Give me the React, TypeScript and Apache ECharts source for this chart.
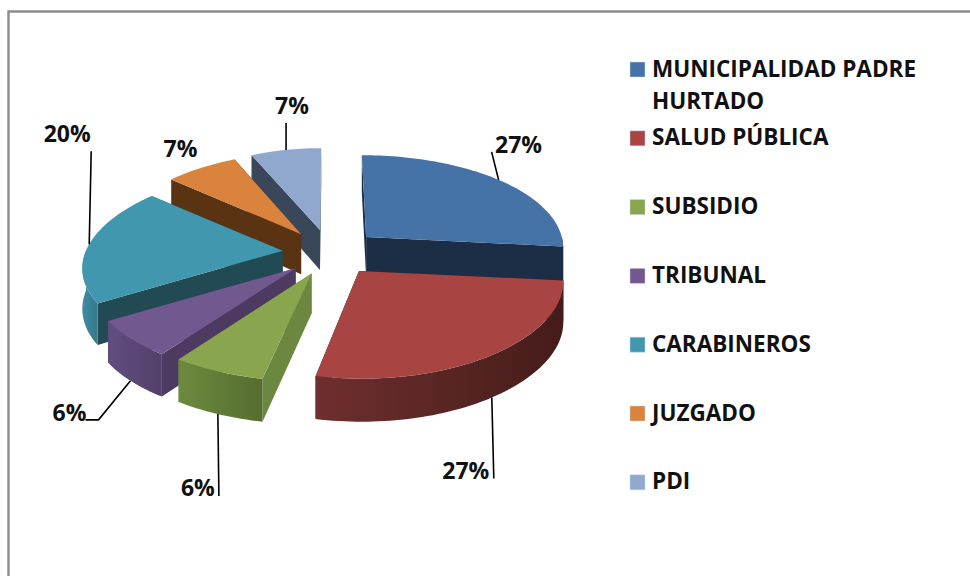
import React, { useEffect, useRef } from "react";
import * as echarts from "echarts";

const categories = [
  "MUNICIPALIDAD PADRE\nHURTADO",
  "SALUD PÚBLICA",
  "SUBSIDIO",
  "TRIBUNAL",
  "CARABINEROS",
  "JUZGADO",
  "PDI",
];
const shares = [26.6, 26.6, 6.49, 6.49, 19.9, 6.9, 7.02];

const topColors = ["#4573a7", "#a84543", "#89a54e", "#71588f", "#4097ae", "#d9833c", "#91a8ce"];
const edgeColors = ["#1c2e45", "#451c1a", "#6c8840", "#4d3a60", "#214a55", "#5a3312", "#3a465a"];
const rimFrom = ["#1c2e45", "#6e2f2e", "#6c8a3e", "#624d80", "#3d8ca2", "#5a3312", "#3a465a"];
const rimTo = ["#1c2e45", "#451c1a", "#566d30", "#52406a", "#35798c", "#5a3312", "#3a465a"];

// leader polyline offsets and label offset, relative to the slice's rim midpoint
const leaderOffsets: number[][][] = [
  [[-7, -28]],
  [[2, 81]],
  [[1, 82]],
  [[-32, 39], [-45, 39]],
  [[2, -93]],
  [],
  [[0, -27]],
];
const labelOffsets = [[20, -36], [-26, 72], [-20, 73], [-61, 31], [-22, -111], [-21, -20], [6, -45]];

const CX = 330.5;
const CY = 252.4;
const RX_RIGHT = 199;
const RX_LEFT = 197;
const SLOPE_RIGHT = 20;
const SLOPE_LEFT = 33;
const RY = 93;
const EXPLODE_X = 48;
const EXPLODE_Y = 23;
const PERSPECTIVE_Y = 0.137;
const NEAR_GAIN = 0.025;
const CONVERGE = 0.12;
const FONT = '"Open Sans", "Noto Sans", sans-serif';

const total = shares.reduce((a, b) => a + b, 0);
const startAngles: number[] = [];
shares.reduce((acc, v, i) => {
  startAngles[i] = acc;
  return acc + (v / total) * Math.PI * 2;
}, 0);
const sweep = (i: number) => (shares[i] / total) * Math.PI * 2;
const midZ = (i: number) => -Math.cos(startAngles[i] + sweep(i) / 2);
const order = shares.map((_, i) => i).sort((a, b) => midZ(a) - midZ(b));

const apexOf = (i: number) => {
  const m = startAngles[i] + sweep(i) / 2;
  return [CX + EXPLODE_X * Math.sin(m), CY - EXPLODE_Y * Math.cos(m)];
};
const rimPoint = (i: number, t: number) => {
  const apex = apexOf(i);
  const X = Math.sin(t);
  const Z = -Math.cos(t);
  const a = X > 0 ? RX_RIGHT + SLOPE_RIGHT * Z : RX_LEFT + SLOPE_LEFT * Z;
  const gain = 1 + NEAR_GAIN * midZ(i);
  const sy = 1 / (1 - PERSPECTIVE_Y * Z);
  return [apex[0] + a * X * gain + (apex[0] - CX) * CONVERGE * Z, apex[1] + RY * Z * sy];
};
const depthAt = (t: number) => 40 - 3 * Math.cos(t);

function renderSlice(params: any) {
  const i = params.dataIndex;
  const value = shares[i];
  const rank = order.indexOf(i);
  const t0 = startAngles[i];
  const t1 = t0 + sweep(i);
  const apex = apexOf(i);
  const arc = (a: number, b: number) => {
    const steps = Math.max(6, Math.ceil((b - a) / 0.025));
    const out: number[] = [];
    for (let k = 0; k <= steps; k++) out.push(a + ((b - a) * k) / steps);
    return out;
  };
  const rim = arc(t0, t1).map((t) => rimPoint(i, t));
  const apexLow = [apex[0], apex[1] + 40];
  const first = rim[0];
  const last = rim[rim.length - 1];
  const down = (p: number[], t: number) => [p[0], p[1] + depthAt(t)];
  const z = rank * 10;
  const children: any[] = [
    {
      type: "polygon",
      z2: z,
      shape: { points: [apex, first, down(first, t0), apexLow] },
      style: { fill: edgeColors[i] },
    },
    {
      type: "polygon",
      z2: z,
      shape: { points: [apex, last, down(last, t1), apexLow] },
      style: { fill: edgeColors[i] },
    },
    {
      type: "polygon",
      z2: z + 2,
      shape: { points: [apex, ...rim] },
      style: { fill: topColors[i] },
    },
  ];
  // outer wall: only the part of the rim that faces the viewer
  const f0 = Math.max(t0, Math.PI / 2);
  const f1 = Math.min(t1, (3 * Math.PI) / 2);
  if (f1 > f0) {
    const ts = arc(f0, f1);
    const upper = ts.map((t) => rimPoint(i, t));
    const lower = ts.map((t) => down(rimPoint(i, t), t)).reverse();
    children.push({
      type: "polygon",
      z2: z + 1,
      shape: { points: [...upper, ...lower] },
      style: {
        fill: new echarts.graphic.LinearGradient(0, 0, 1, 0, [
          { offset: 0, color: rimFrom[i] },
          { offset: 1, color: rimTo[i] },
        ]),
      },
    });
  }
  const mid = (t0 + t1) / 2;
  const midPt = rimPoint(i, mid);
  const isFront = Math.cos(mid) < -0.3;
  const anchor = [midPt[0], midPt[1] + (isFront ? depthAt(mid) : 0)];
  const leaders = leaderOffsets[i];
  if (leaders.length) {
    children.push({
      type: "polyline",
      z2: 500,
      shape: { points: [anchor, ...leaders.map((o) => [anchor[0] + o[0], anchor[1] + o[1]])] },
      style: { stroke: "#000", lineWidth: 1.6, fill: "none" },
    });
  }
  children.push({
    type: "text",
    z2: 501,
    style: {
      text: `${Math.round((value / total) * 100)}%`,
      x: anchor[0] + labelOffsets[i][0],
      y: anchor[1] + labelOffsets[i][1],
      fill: "#111",
      font: `bold 23px ${FONT}`,
      align: "center",
      verticalAlign: "middle",
    },
  });
  return { type: "group", children };
}

const legendGraphics = () => {
  const items: any[] = [];
  categories.forEach((name, i) => {
    const y = 69.5 + i * 68.8;
    items.push({
      type: "rect",
      shape: { x: 630, y: y - 7.5, width: 15, height: 15 },
      style: { fill: topColors[i], stroke: "#c8d4e4", lineWidth: 0.5 },
    });
    name.split("\n").forEach((line, k) => {
      items.push({
        type: "text",
        style: {
          text: line,
          x: 652,
          y: y - 1.5 + k * 32,
          fill: "#111",
          font: `bold 22.5px ${FONT}`,
          align: "left",
          verticalAlign: "middle",
        },
      });
    });
  });
  return items;
};

export default function App() {
  const ref = useRef<HTMLDivElement>(null);
  useEffect(() => {
    const chart = echarts.init(ref.current!, null, { renderer: "svg" });
    chart.setOption({
      animation: false,
      backgroundColor: "#fff",
      graphic: [
        {
          type: "polyline",
          shape: { points: [[8.5, 576], [8.5, 11.5], [970, 11.5]] },
          style: { stroke: "#8c8c8c", lineWidth: 2.4, fill: "none" },
        },
        ...legendGraphics(),
      ],
      series: [
        {
          type: "custom",
          coordinateSystem: "none",
          silent: true,
          renderItem: renderSlice,
          data: shares.map((v, i) => ({ name: categories[i], value: [v] })),
        },
      ],
    });
    return () => chart.dispose();
  }, []);
  return <div ref={ref} style={{ position: "fixed", left: 0, top: 0, width: 970, height: 576 }} />;
}
